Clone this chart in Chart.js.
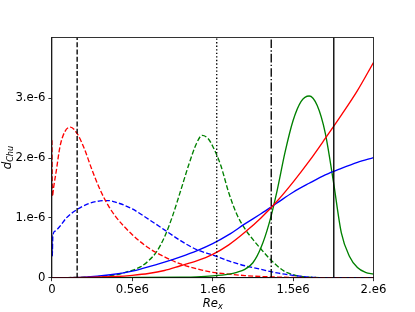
<!DOCTYPE html>
<html>
<head>
<meta charset="utf-8">
<script src="https://cdn.jsdelivr.net/npm/chart.js@4.4.1/dist/chart.umd.min.js"></script>
<style>
html,body{margin:0;padding:0;background:#fff;}
#wrap{width:415px;height:312px;}
</style>
</head>
<body>
<div id="wrap"><canvas id="c" width="415" height="312"></canvas></div>
<script>
// x in units of 1e6 (Re_x), y in units of 1e-6 (d_Chu)
const redSolidX = [0, 0.2, 0.4, 0.5, 0.6, 0.7, 0.8, 0.9, 1.0, 1.1, 1.2, 1.3, 1.4, 1.5, 1.6, 1.7, 1.8, 1.9, 2.0];
const redSolidY = [0, 0.003, 0.02, 0.04, 0.07, 0.12, 0.2, 0.28, 0.39, 0.55, 0.76, 1.0, 1.28, 1.6, 1.95, 2.33, 2.72, 3.13, 3.6];

const blueSolidX = [0, 0.2, 0.364, 0.5, 0.571, 0.7, 0.8, 0.9, 1.0, 1.1, 1.2, 1.3, 1.4, 1.5, 1.6, 1.7, 1.8, 1.9, 2.0];
const blueSolidY = [0, 0.01, 0.05, 0.11, 0.16, 0.26, 0.35, 0.45, 0.57, 0.72, 0.9, 1.07, 1.25, 1.43, 1.58, 1.72, 1.83, 1.93, 2.01];

const greenSolidX = [0, 0.8, 0.9, 1.0, 1.1, 1.15, 1.2, 1.25, 1.3, 1.35, 1.4, 1.45, 1.5, 1.55, 1.6, 1.65, 1.7, 1.75, 1.8, 1.85, 1.9, 1.95, 2.0];
const greenSolidY = [0, 0.01, 0.015, 0.03, 0.06, 0.09, 0.14, 0.25, 0.5, 0.9, 1.45, 2.1, 2.63, 2.95, 3.04, 2.88, 2.42, 1.62, 0.75, 0.36, 0.17, 0.09, 0.06];

const redDashX = [0, 0.003, 0.01, 0.028, 0.05, 0.08, 0.115, 0.157, 0.2, 0.25, 0.3, 0.35, 0.4, 0.5, 0.6, 0.7, 0.8, 0.9, 1.0, 1.1, 1.2, 1.3, 1.4, 1.5, 1.6, 1.8, 2.0];
const redDashY = [2.3, 1.36, 1.5, 1.8, 2.19, 2.44, 2.52, 2.41, 2.17, 1.8, 1.47, 1.21, 1.01, 0.72, 0.5, 0.35, 0.23, 0.15, 0.09, 0.06, 0.035, 0.02, 0.01, 0.004, 0.001, 0, 0];

const blueDashX = [0, 0.002, 0.006, 0.02, 0.05, 0.09, 0.15, 0.22, 0.3, 0.35, 0.4, 0.5, 0.6, 0.7, 0.8, 0.9, 1.0, 1.1, 1.2, 1.3, 1.4, 1.5, 1.6, 1.7, 2.0];
const blueDashY = [0.72, 0.36, 0.7, 0.78, 0.86, 1.0, 1.13, 1.23, 1.285, 1.29, 1.26, 1.15, 0.98, 0.8, 0.62, 0.47, 0.38, 0.28, 0.2, 0.14, 0.08, 0.04, 0.01, 0, 0];

const greenDashX = [0, 0.1, 0.2, 0.3, 0.4, 0.47, 0.55, 0.6, 0.65, 0.7, 0.75, 0.8, 0.85, 0.9, 0.934, 0.97, 1.0, 1.05, 1.1, 1.15, 1.2, 1.25, 1.3, 1.35, 1.4, 1.45, 1.5, 1.55, 1.6, 1.7, 2.0];
const greenDashY = [0, 0.002, 0.008, 0.02, 0.05, 0.1, 0.18, 0.28, 0.43, 0.68, 1.03, 1.45, 1.88, 2.25, 2.38, 2.33, 2.2, 1.88, 1.42, 1.06, 0.82, 0.64, 0.48, 0.33, 0.2, 0.1, 0.05, 0.02, 0.008, 0, 0];

// vertical reference lines (Re_x positions, units of 1e6)
const vlineX = [0.157, 1.025, 1.364, 1.753];
const vlineStyle = ['dashed', 'dotted', 'dashdot', 'solid'];

const xTicks = [0, 0.5, 1, 1.5, 2];
const xTickLabels = ['0', '0.5e6', '1.e6', '1.5e6', '2.e6'];
const yTicks = [0, 1, 2, 3];
const yTickLabels = ['0', '1.e-6', '2.e-6', '3.e-6'];
const yMax = 4.02;

const LW = 1.35;
const dashes = {
  solid: [],
  dashed: [5, 2.2],
  dotted: [1.35, 2.2],
  dashdot: [8.6, 2.2, 1.35, 2.2]
};

function pts(xs, ys) { return xs.map((x, i) => ({x: x, y: ys[i]})); }

function curve(xs, ys, color, style) {
  return {
    data: pts(xs, ys), borderColor: color, borderWidth: LW, borderDash: dashes[style],
    showLine: true, pointRadius: 0, tension: 0.35, cubicInterpolationMode: 'monotone', fill: false
  };
}

const datasets = [];
vlineX.forEach((x, i) => {
  datasets.push({
    data: [{x: x, y: 0}, {x: x, y: yMax}], borderColor: '#000', borderWidth: LW,
    borderDash: dashes[vlineStyle[i]], showLine: true, pointRadius: 0, fill: false
  });
});
datasets.push(curve(redSolidX, redSolidY, '#ff0000', 'solid'));
datasets.push(curve(blueSolidX, blueSolidY, '#0000ff', 'solid'));
datasets.push(curve(greenSolidX, greenSolidY, '#008000', 'solid'));
datasets.push(curve(redDashX, redDashY, '#ff0000', 'dashed'));
datasets.push(curve(blueDashX, blueDashY, '#0000ff', 'dashed'));
datasets.push(curve(greenDashX, greenDashY, '#008000', 'dashed'));

const FONT = 'DejaVu Sans';
const FS = 11.7;

const framePlugin = {
  id: 'frame',
  afterDraw(chart) {
    const ctx = chart.ctx, a = chart.chartArea;
    ctx.save();
    ctx.strokeStyle = '#000';
    ctx.lineWidth = 0.8;
    ctx.strokeRect(a.left, a.top, a.right - a.left, a.bottom - a.top);
    // x label: Re_x
    const cx = (a.left + a.right) / 2;
    ctx.fillStyle = '#000';
    ctx.textBaseline = 'alphabetic';
    ctx.font = 'italic ' + FS + 'px "' + FONT + '"';
    const w1 = ctx.measureText('Re').width;
    ctx.font = 'italic ' + (FS * 0.7) + 'px "' + FONT + '"';
    const w2 = ctx.measureText('x').width;
    let sx = cx - (w1 + w2) / 2;
    ctx.textAlign = 'left';
    ctx.font = 'italic ' + FS + 'px "' + FONT + '"';
    ctx.fillText('Re', sx, 306.5);
    ctx.font = 'italic ' + (FS * 0.7) + 'px "' + FONT + '"';
    ctx.fillText('x', sx + w1, 309);
    // y label: d_Chu rotated
    const cy = (a.top + a.bottom) / 2;
    ctx.translate(10.5, cy);
    ctx.rotate(-Math.PI / 2);
    ctx.font = 'italic ' + FS + 'px "' + FONT + '"';
    const v1 = ctx.measureText('d').width;
    ctx.font = 'italic ' + (FS * 0.7) + 'px "' + FONT + '"';
    const v2 = ctx.measureText('Chu').width;
    const s = -(v1 + v2) / 2;
    ctx.font = 'italic ' + FS + 'px "' + FONT + '"';
    ctx.fillText('d', s, 0);
    ctx.font = 'italic ' + (FS * 0.7) + 'px "' + FONT + '"';
    ctx.fillText('Chu', s + v1, 2.5);
    ctx.restore();
  }
};

new Chart(document.getElementById('c'), {
  type: 'scatter',
  data: { datasets: datasets },
  options: {
    responsive: false,
    animation: false,
    devicePixelRatio: 1,
    layout: { padding: { left: 0, right: 41.5, top: 37.4, bottom: 0 } },
    plugins: { legend: { display: false }, tooltip: { enabled: false } },
    elements: { line: { capBezierPoints: true } },
    scales: {
      x: {
        type: 'linear', min: 0, max: 2,
        afterBuildTicks(scale) { scale.ticks = xTicks.map(v => ({value: v})); },
        afterFit(scale) { scale.height = 34.3; },
        ticks: {
          callback: (v) => { const i = xTicks.indexOf(v); return i >= 0 ? xTickLabels[i] : ''; },
          color: '#000', font: { family: FONT, size: FS }, padding: 2, maxRotation: 0, autoSkip: false
        },
        grid: { drawOnChartArea: false, drawTicks: true, tickLength: 3.5, color: '#000', lineWidth: 0.8 },
        border: { display: true, color: '#000', width: 0.8 }
      },
      y: {
        type: 'linear', min: 0, max: yMax,
        afterBuildTicks(scale) { scale.ticks = yTicks.map(v => ({value: v})); },
        afterFit(scale) { scale.width = 51.9; },
        ticks: {
          callback: (v) => { const i = yTicks.indexOf(v); return i >= 0 ? yTickLabels[i] : ''; },
          color: '#000', font: { family: FONT, size: FS }, padding: 3, autoSkip: false
        },
        grid: { drawOnChartArea: false, drawTicks: true, tickLength: 3.5, color: '#000', lineWidth: 0.8 },
        border: { display: true, color: '#000', width: 0.8 }
      }
    }
  },
  plugins: [framePlugin]
});
</script>
</body>
</html>
